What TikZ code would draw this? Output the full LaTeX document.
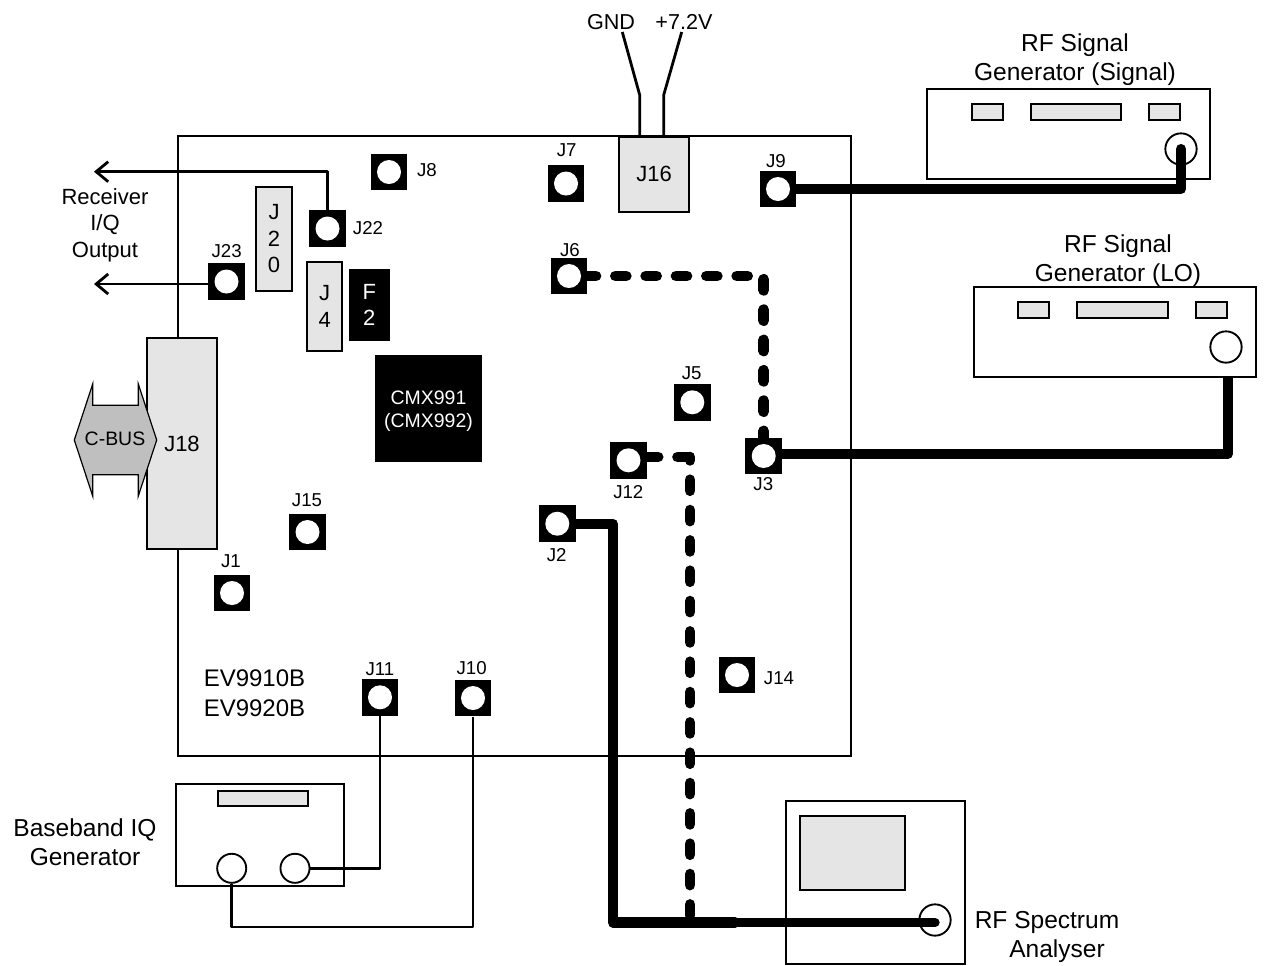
\documentclass[tikz,border=0pt]{standalone}
\usepackage{fontspec}
\setmainfont{Liberation Sans}
\usepackage{tikz}
\usetikzlibrary{arrows.meta,calc}

\begin{document}
\begin{tikzpicture}[
    x=0.75pt, y=-0.75pt,
    px size/.style 2 args={minimum width=#1*0.75pt, minimum height=#2*0.75pt},
    plate/.style={rectangle, draw=black, fill=white, line width=1.5pt, inner sep=0pt},
    panel/.style={rectangle, draw=black, fill=black!10, line width=1.6pt, inner sep=0pt, align=center, font=\fontsize{16.5}{20}\selectfont},
    chip/.style={rectangle, fill=black, text=white, inner sep=0pt, align=center},
    jack/.style={rectangle, fill=black, inner sep=0pt, minimum size=27.6pt, path picture={\fill[white] (path picture bounding box.center) circle (9pt);}},
    jacktext/.style={inner sep=0pt, font=\fontsize{14}{16}\selectfont},
    caption/.style={inner sep=0pt, align=center, font=\fontsize{18.4}{21.8}\selectfont},
    port/.style={circle, draw=black, fill=white, line width=1.4pt, inner sep=0pt},
    thinwire/.style={draw=black, line width=2.1pt, line join=round},
    rxwire/.style={thinwire, -{Straight Barb[length=9pt,width=15pt]}},
    rfwire/.style={draw=black, line width=7.6pt, line cap=round, line join=round},
    rfdash/.style={rfwire, line width=8pt, dash pattern=on 8.25pt off 14.5pt}
]
    \useasboundingbox (0,0) rectangle (1264,965);

    \node [plate, px size={673}{620}] (board) at (514.5,446) {};

    \node [panel, px size={70}{75.6}] (j16) at (654,174.5) {\raisebox{1.5pt}{J16}};
    \node [panel, px size={35.4}{104.3}] (j20) at (274,238.8) {J\\2\\0};
    \node [panel, px size={35.3}{88.4}] (j4) at (324.7,306.5) {J\\4};
    \node [panel, px size={70.3}{210.7}] (j18) at (182,443.7) {J18};
    \node [chip, px size={41.3}{71.4}, font=\fontsize{16.5}{20}\selectfont] (f2) at (369.3,305) {F\\2};
    \node [chip, px size={107}{107}, font=\fontsize{14.6}{17.5}\selectfont] (cmx) at (428.5,408.5) {\rule{0pt}{14.3pt}CMX991\\(CMX992)};

    \node [jack] (j8) at (389,172) {};
    \node [jack] (j22) at (327.5,228.5) {};
    \node [jack] (j23) at (226.5,281.5) {};
    \node [jack] (j7) at (566,183.5) {};
    \node [jack] (j9) at (778,189) {};
    \node [jack] (j6) at (569,276) {};
    \node [jack] (j5) at (692.3,402.3) {};
    \node [jack] (j12) at (628.5,460.3) {};
    \node [jack] (j3) at (763.7,456) {};
    \node [jack] (j2) at (557.3,523.7) {};
    \node [jack] (j15) at (307.5,532) {};
    \node [jack] (j1) at (232,593) {};
    \node [jack] (j14) at (737,675) {};
    \node [jack] (j11) at (380,697.3) {};
    \node [jack] (j10) at (473,698) {};

    \node [jacktext] (j8 text) at (427,170) {J8};
    \node [jacktext] (j22 text) at (368,228) {J22};
    \node [jacktext] (j23 text) at (226.7,250.7) {J23};
    \node [jacktext] (j7 text) at (566.7,149.7) {J7};
    \node [jacktext] (j9 text) at (776,160.7) {J9};
    \node [jacktext] (j6 text) at (570,250) {J6};
    \node [jacktext] (j5 text) at (691.7,372.7) {J5};
    \node [jacktext] (j12 text) at (628.3,491.7) {J12};
    \node [jacktext] (j3 text) at (763.3,484) {J3};
    \node [jacktext] (j2 text) at (556.7,555) {J2};
    \node [jacktext] (j15 text) at (307,500) {J15};
    \node [jacktext] (j1 text) at (231,561) {J1};
    \node [jacktext] (j14 text) at (779,678) {J14};
    \node [jacktext] (j11 text) at (380,669.3) {J11};
    \node [jacktext] (j10 text) at (471.7,668.3) {J10};

    \draw [draw=black, fill=black!25, line width=0.9pt] (74.3,440) -- (92.7,384) -- (92.7,405.3) -- (138.3,405.3) -- (138.3,384) -- (156.7,440) -- (138.3,496) -- (138.3,474.7) -- (92.7,474.7) -- (92.7,496) -- cycle;
    \node [inner sep=0pt, font=\fontsize{14.6}{17}\selectfont] (cbus) at (115,438.5) {C-BUS};

    \node [inner sep=0pt, align=left, font=\fontsize{18}{22.5}\selectfont] (board name) at (254.5,693) {EV9910B\\EV9920B};
    \node [inner sep=0pt, align=center, font=\fontsize{16.5}{20}\selectfont] (rx text) at (105,225) {Receiver\\I/Q\\Output};

    \node [inner sep=0pt, font=\fontsize{16.2}{18}\selectfont] (gnd text) at (611,22) {GND};
    \node [inner sep=0pt, font=\fontsize{16.2}{18}\selectfont] (vcc text) at (684,22) {+7.2V};
    \coordinate (gnd end) at (622.3,32);
    \coordinate (gnd bend) at (639.7,95);
    \coordinate (vcc end) at (681.7,32);
    \coordinate (vcc bend) at (663.7,95);
    \draw [thinwire] (gnd end) -- (gnd bend) -- (gnd bend |- j16.north);
    \draw [thinwire] (vcc end) -- (vcc bend) -- (vcc bend |- j16.north);

    \coordinate (rx i end) at (94,171.7);
    \coordinate (rx q end) at (94,284);
    \draw [rxwire] (j22.north) |- (rx i end);
    \draw [rxwire] (j23.west |- rx q end) -- (rx q end);

    \node [plate, px size={283}{89.7}] (sig gen) at (1068.5,133.8) {};
    \node [panel, px size={31}{16}] (sig a) at (987.2,111.7) {};
    \node [panel, px size={90.3}{16}] (sig b) at (1076.2,111.7) {};
    \node [panel, px size={30.7}{16}] (sig c) at (1164.7,111.7) {};
    \node [port, minimum size=23.5pt] (sig port) at (1181,149) {};
    \node [caption] (sig text) at (1075,60) {RF Signal\\Generator (Signal)};

    \node [plate, px size={282.6}{89.7}] (lo gen) at (1115,331.8) {};
    \node [panel, px size={31.3}{16}] (lo a) at (1033.7,309.7) {};
    \node [panel, px size={90.4}{16}] (lo b) at (1122.5,309.7) {};
    \node [panel, px size={31}{16}] (lo c) at (1211.2,309.7) {};
    \node [port, minimum size=23.5pt] (lo port) at (1226,347) {};
    \node [caption] (lo text) at (1118,260.5) {RF Signal\\Generator (LO)};

    \node [plate, px size={179}{163}] (sa box) at (875.2,882.5) {};
    \node [panel, px size={105.3}{74.6}] (sa screen) at (852.7,853) {};
    \node [port, minimum size=23.5pt] (sa port) at (935,920) {};
    \node [caption] (sa text) at (1047,937) {RF Spectrum\\\hspace*{15pt}Analyser};

    \node [plate, px size={168.6}{101.4}] (bb box) at (260,835) {};
    \node [panel, px size={90}{15.6}] (bb strip) at (262.7,798.5) {};
    \node [port, minimum size=21.8pt] (bb i) at (231.7,868.3) {};
    \node [port, minimum size=21.8pt] (bb q) at (295,868.3) {};
    \node [caption] (bb text) at (85,842.5) {Baseband IQ\\Generator};

    \coordinate (bb bend) at (231.7,927);
    \draw [thinwire] (j11.south) |- (bb q.east);
    \draw [thinwire] (j10.south) |- (bb bend) -- (bb i.south);

    \draw [rfwire] (j9.east) -| (sig port.center);
    \draw [rfwire, line cap=butt] (lo gen.south -| 1228,0) |- ([yshift=1.8pt]j3.east);

    \coordinate (rf bend) at (613,922.5);
    \coordinate (rf joint) at (735,922.5);
    \coordinate (j12 turn) at (690,457);
    \draw [rfwire] (j2.east) -| (rf bend) -- (rf joint);
    \draw [rfwire, line width=7pt] (rf joint) -- (rf joint -| sa port.center);

    \draw [rfdash, dash phase=2pt] (j6.east) -| (j3.north);
    \draw [rfdash] (j12.east |- j12 turn) -- (j12 turn);
    \draw [rfdash, dash phase=5.7pt] (j12 turn) -- (j12 turn |- rf bend);
\end{tikzpicture}
\end{document}
